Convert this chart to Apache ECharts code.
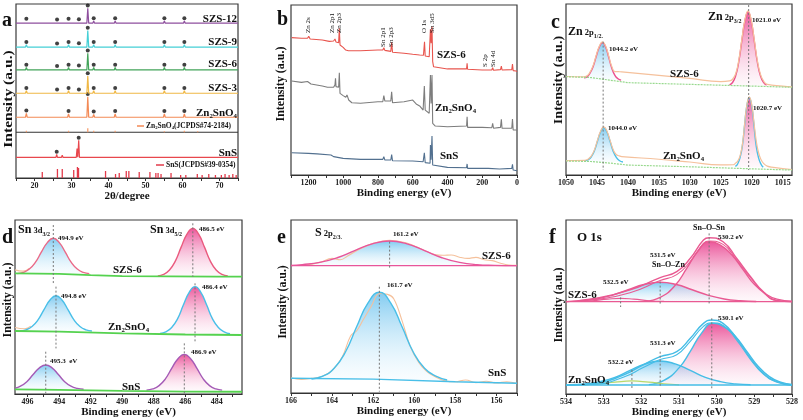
<!DOCTYPE html>
<html><head><meta charset="utf-8">
<script src="https://cdn.jsdelivr.net/npm/echarts@6/dist/echarts.min.js"></script>
<style>html,body{margin:0;padding:0;background:#fff}#c{width:803px;height:420px}</style>
</head><body><div id="c"></div>
<script>
// ---------- Panel a: XRD ----------
const xrdPeaks = [17.8, 26.1, 29.2, 32.0, 34.4, 36.0, 41.8, 51.7, 55.1, 60.5];
const szs12H = [0.9, 0.5, 0.9, 0.6, 8.6, 1.2, 1.2, 0.5, 1.2, 1.2];
const szs9H  = [1.4, 0.5, 1.4, 0.6, 9.6, 1.4, 1.4, 0.5, 1.4, 1.4];
const szs6H  = [1.4, 0.6, 1.4, 0.9, 9.6, 1.4, 1.4, 0.6, 1.4, 1.4];
const szs3H  = [1.4, 0.5, 1.4, 0.6, 9.9, 1.4, 1.4, 0.5, 1.4, 1.4];
const znH    = [2.3, 0,   2.0, 0,  11.8, 1.7, 2.0, 0.6, 2.0, 2.0];
const xrdBases = [89.0, 75.2, 62.1, 48.7, 34.9];          // SZS-12, SZS-9, SZS-6, SZS-3, Zn2SnO4
const szsMarked = [17.8, 26.1, 29.2, 32.0, 34.4, 36.0, 41.8, 55.1, 60.5];
const znMarked  = [17.8, 29.2, 34.4, 36.0, 41.8, 55.1, 60.5];
const snsBase = 11.9;
const snsPeaks = [22.0, 26.0, 27.5, 30.5, 31.5, 31.95, 39.1, 45.5, 48.5, 51.3, 53.5, 56.9, 64.5, 66.0];
const snsH     = [0.3, 1.7, 1.2, 0.6, 5.0, 9.8, 0.9, 0.6, 0.3, 0.5, 0.3, 0.3, 0.3, 0.2];
const snsMarked = [26.0, 31.95];
const znRefBase = 26.3;
const znRefPos = [17.8, 29.2, 34.4, 36.0, 41.8, 51.8, 55.1, 60.5, 64.1, 71.2];
const znRefH   = [0.9, 0.9, 2.3, 0.9, 0.9, 0.4, 0.6, 0.9, 0.5, 0.4];
const snsRefPos = [22.1,26.2,27.5,30.6,31.6,31.9,39.2,41.9,42.9,44.8,45.5,48.3,51.2,52.8,53.4,54.2,56.9,59.5,60.9,64.0,65.3,67.1,68.9,70.5,71.5,72.6,73.6,74.5];
const snsRefH   = [3.5,5.2,5.2,4.6,6.3,5.8,4.0,2.3,2.9,4.0,4.0,3.5,3.5,2.9,2.9,2.3,2.9,1.7,1.7,2.3,1.7,2.3,1.7,1.7,2.3,1.7,2.3,1.7];
const xrdTickLabels = [20, 30, 40, 50, 60, 70];
const xrdTicks = [15,20,25,30,35,40,45,50,55,60,65,70,75];

// ---------- Panel b: XPS survey ----------
const surveySZS6 = [[1296,80.8],[1240,80.4],[1205,80.4],[1198,81.6],[1190,80.0],[1120,79.4],[1080,78.6],[1055,78.8],[1047,80.0],[1044,80.8],[1041,78.2],[1026,77.8],[1022,86.3],[1018,76.5],[1000,75.1],[985,73.5],[978,74.5],[970,73.1],[900,73.1],[800,73.5],[772,73.5],[766,74.9],[760,73.3],[726,72.7],[721,78.0],[716,72.2],[650,71.6],[600,71.0],[560,70.6],[538,70.4],[532,78.4],[528,70.0],[505,69.6],[498,85.7],[494,77.5],[489,87.3],[485,66.7],[480,63.7],[470,62.7],[400,62.4],[290,62.4],[287,65.7],[284,62.2],[200,61.8],[145,61.8],[140,63.1],[135,61.6],[95,62.0],[90,64.1],[86,61.8],[30,62.0],[26,65.3],[22,61.4],[5,61.2],[0,60.8]];
const surveyZn = [[1296,55.3],[1240,54.5],[1205,55.0],[1198,56.0],[1185,53.5],[1120,52.4],[1090,51.6],[1055,51.6],[1047,53.0],[1044,56.9],[1041,52.0],[1026,51.6],[1022,60.2],[1018,48.0],[1000,46.7],[985,45.7],[978,47.1],[968,44.1],[950,42.5],[900,42.2],[800,43.1],[772,43.1],[766,46.7],[760,43.5],[726,43.5],[721,49.0],[716,42.5],[650,43.1],[600,44.1],[590,44.5],[580,41.8],[560,40.6],[540,38.2],[533,52.4],[528,38.2],[505,36.3],[498,58.8],[494,42.0],[489,58.8],[485,30.4],[480,29.4],[470,28.8],[400,28.4],[290,28.8],[287,34.3],[284,28.0],[200,28.0],[145,27.8],[140,30.4],[135,27.5],[95,28.0],[90,32.7],[86,27.5],[30,27.5],[26,32.9],[22,26.5],[5,26.5],[0,26.1]];
const surveySnS = [[1296,13.1],[1200,12.7],[1150,12.4],[1070,11.8],[1062,12.6],[1055,10.8],[1000,9.8],[900,9.2],[772,9.2],[766,10.8],[760,8.8],[726,8.8],[721,12.0],[716,8.4],[600,8.2],[540,7.8],[533,13.1],[528,7.3],[500,6.9],[498,17.6],[494,9.0],[489,22.9],[485,5.9],[480,4.9],[400,4.5],[290,4.3],[287,6.5],[284,3.9],[165,3.9],[162,4.5],[158,3.7],[100,3.5],[30,3.9],[26,6.3],[22,2.9],[0,2.5]];
const surveyTickLabels = [0,200,400,600,800,1000,1200];
const surveyTicks = [0,100,200,300,400,500,600,700,800,900,1000,1100,1200,1300];
const surveyPeakNames = ['Zn 2s','Zn 2p1','Zn 2p3','Sn 2p1','Sn 2p3','O 1s','Sn 3d5','S 2p','Sn 4d'];

// ---------- Panel c: Zn 2p ----------
const cSzsBg  = [[1050,57.5],[1046,57.0],[1043,55.5],[1040,54.0],[1030,53.0],[1020,52.0],[1013.5,51.3]];
const cSzsRaw = [[1050,57.6],[1047.2,57.4],[1046.6,58.0],[1046.1,60.3],[1045.6,64.2],[1045.1,70.2],[1044.6,75.5],[1044.1,77.9],[1043.6,75.4],[1043.1,69.6],[1042.6,63.4],[1042.1,60.5],[1041.5,60.4],[1041,60.3],[1035,58.3],[1030,56.5],[1025,54.6],[1023.6,55.0],[1023.1,56.0],[1022.6,59.2],[1022.1,67.0],[1021.6,79.3],[1021.1,90.8],[1020.6,96.0],[1020.1,90.8],[1019.6,79.3],[1019.1,67.0],[1018.6,59.0],[1018.1,55.0],[1017.5,53.0],[1015,52.0],[1013.5,51.5]];
const cSzsP1  = [[1047.1,56.9],[1046.6,57.4],[1046.1,59.7],[1045.6,63.6],[1045.1,69.6],[1044.6,75.0],[1044.1,77.4],[1043.6,74.8],[1043.1,68.9],[1042.6,62.4],[1042.1,58.3],[1041.6,56.3],[1041.1,55.5]];
const cSzsP2  = [[1023.6,52.7],[1023.1,54.1],[1022.6,58.0],[1022.1,66.1],[1021.6,78.6],[1021.1,90.3],[1020.6,95.5],[1020.1,90.3],[1019.6,78.6],[1019.1,66.1],[1018.6,58.0],[1018.1,54.1],[1017.6,52.5]];
const cZnBg   = [[1050,8.2],[1046,7.9],[1043,7.0],[1040,5.8],[1030,4.8],[1020,3.6],[1013.5,2.9]];
const cZnRaw  = [[1050,8.4],[1047,8.6],[1046.4,9.4],[1045.9,11.2],[1045.4,14.8],[1044.9,20.5],[1044.4,25.8],[1043.9,28.2],[1043.4,25.8],[1042.9,20.4],[1042.4,15.0],[1041.9,12.0],[1041.4,11.2],[1041,10.8],[1035,9.2],[1030,7.6],[1025,5.9],[1023,6.0],[1022.65,6.8],[1022.3,8.0],[1021.9,11.0],[1021.5,18.2],[1021.15,29.8],[1020.8,40.8],[1020.4,45.7],[1020.0,41.0],[1019.65,31.0],[1019.3,20.5],[1018.9,13.0],[1018.5,9.0],[1018.1,6.8],[1017.5,5.2],[1016.5,4.5],[1013.5,3.2]];
const cZnP1   = [[1047,8.2],[1046.4,8.9],[1045.9,10.7],[1045.4,14.3],[1044.9,20.0],[1044.4,25.3],[1043.9,27.7],[1043.4,25.3],[1042.9,19.9],[1042.4,14.1],[1041.9,10.4],[1041.4,8.5],[1040.8,7.6]];
const cZnP2   = [[1022.65,5.0],[1022.3,6.3],[1021.9,10.0],[1021.5,17.5],[1021.15,29.3],[1020.8,40.3],[1020.4,45.2],[1020.0,40.3],[1019.65,29.3],[1019.3,17.5],[1018.9,10.0],[1018.5,6.3],[1018.15,4.6]];
const cDash = [[1044.0, 78.0, 2.9], [1020.5, 99.4, 2.9]];
const cTickLabels = [1015,1020,1025,1030,1035,1040,1045,1050];
const cTicks = [1015,1017.5,1020,1022.5,1025,1027.5,1030,1032.5,1035,1037.5,1040,1042.5,1045,1047.5,1050];

// ---------- Panel d: Sn 3d ----------
const dSzsBg = [[496.8,69.3],[494,69.0],[492,68.3],[490,67.8],[484,67.4],[482.4,67.4]];
const dSzsRaw = [[496.8,71.3],[496.3,70.6],[495.9,72.2]];
const dSzsP1 = [[496.65,69.2],[496.27,69.9],[495.89,71.8],[495.51,75.6],[495.13,81.5],[494.75,87.0],[494.37,89.5],[493.99,87.0],[493.61,81.5],[493.23,75.6],[492.85,71.8],[492.47,69.9],[492.09,69.2]];
const dSzsP2 = [[487.74,67.9],[487.37,68.8],[487.0,71.3],[486.63,76.4],[486.26,84.4],[485.89,91.9],[485.52,95.2],[485.15,91.9],[484.78,84.4],[484.41,76.4],[484.04,71.3],[483.67,68.8],[483.3,67.9]];
const dZnBg = [[496.8,36.2],[494,35.8],[490,34.8],[486,34.2],[482.4,33.9]];
const dZnRaw = [[496.8,38.2],[496.2,37.5],[495.8,39.0]];
const dZnP1 = [[496.48,36.2],[496.1,36.9],[495.72,38.8],[495.34,42.6],[494.96,48.5],[494.58,54.0],[494.2,56.5],[493.82,54.0],[493.44,48.5],[493.06,42.6],[492.68,38.8],[492.3,36.9],[491.92,36.2]];
const dZnP2 = [[487.6,34.8],[487.23,35.7],[486.86,38.2],[486.49,43.2],[486.12,51.1],[485.75,58.4],[485.38,61.7],[485.01,58.4],[484.64,51.1],[484.27,43.2],[483.9,38.2],[483.53,35.7],[483.16,34.6]];
const dSnsBg = [[496.8,2.7],[494,2.4],[490,1.8],[486,1.4],[482.4,1.3]];
const dSnsP1 = [[496.8,3.3],[496.45,4.5],[496.05,7.1],[495.65,11.2],[495.25,15.0],[494.85,16.7],[494.45,15.0],[494.05,11.2],[493.65,7.1],[493.25,4.5],[492.85,3.2],[492.45,2.7]];
const dSnsP2 = [[488.46,2.2],[488.06,2.9],[487.66,4.8],[487.26,8.7],[486.86,14.7],[486.46,20.3],[486.06,22.8],[485.66,20.3],[485.26,14.7],[484.86,8.7],[484.46,4.8],[484.06,2.9],[483.66,2.2]];
const dDash = [[494.37,97.1,62.6],[494.2,61.7,26.2],[485.52,98.1,67.4],[485.38,63.6,29.1],[494.85,24.3,0.4],[486.06,29.1,0.4]];
const dTickLabels = [484,486,488,490,492,494,496];
const dTicks = [483,484,485,486,487,488,489,490,491,492,493,494,495,496];

// ---------- Panel e: S 2p ----------
const eSzsBg = [[166,73.6],[155,73.6]];
const eSzsRaw = [[166,73.7],[165.3,74.0],[164.6,75.5],[164.0,77.8],[163.6,77.0],[163.2,79.5],[162.6,83.5],[162.0,86.5],[161.2,88.3],[160.4,86.8],[159.6,83.0],[159.0,80.0],[158.6,79.6],[158.2,79.8],[157.8,78.5],[157.4,77.8],[157.0,78.4],[156.6,77.0],[156.2,76.5],[155.8,75.0],[155.4,74.0],[155,73.8]];
const eSzsP = [[166,73.7],[165.45,74.2],[164.6,75.5],[163.75,78.2],[162.9,82.3],[162.05,86.2],[161.2,87.9],[160.35,86.2],[159.5,82.3],[158.65,78.2],[157.8,75.5],[156.95,74.2],[156.1,73.8],[155,73.6]];
const eSnsBg = [[166,8.5],[162,8.0],[158,6.5],[155,5.6]];
const eSnsRaw = [[166,8.8],[165.5,7.8],[165,8.5],[164.5,9.5],[164,13],[163.5,21],[163.1,33],[162.8,36],[162.5,42],[162.1,50],[161.7,57.5],[161.3,57],[161.0,54.5],[160.6,42],[160.2,27],[159.8,18],[159.4,12.5],[159,9.5],[158.5,7.0],[158,6.5],[157.5,7.5],[157,6.0],[156.5,6.8],[156,5.8],[155.5,6.5],[155,5.5]];
const eSnsP = [[165.0,8.1],[164.45,9.7],[163.9,14.3],[163.35,23.7],[162.8,38.4],[162.25,52.1],[161.7,58.2],[161.15,52.1],[160.6,38.4],[160.05,23.7],[159.5,14.3],[158.95,9.7],[158.4,7.5]];
const eDash = [[161.2,87.5,72.1],[161.7,61.4,0.8]];
const eTickLabels = [156,158,160,162,164,166];
const eTicks = [155,156,157,158,159,160,161,162,163,164,165,166];

// ---------- Panel f: O 1s ----------
const fSzsEnv = [[534,53.1],[533.2,55.0],[532.3,59.8],[531.5,66.9],[531.06,70.3],[530.7,78.0],[530.35,88.5],[530.2,89.8],[529.83,87.5],[529.47,78.0],[529.1,67.4],[528.76,58.8],[528.4,53.8],[528,53.1]];
const fSzsRaw = [[534,53.0],[533.2,54.3],[532.3,58.2],[531.5,65.2],[531.06,68.6],[530.7,76.2],[530.35,86.6],[530.2,87.9],[529.83,86.0],[529.47,77.0],[529.1,66.8],[528.76,58.4],[528.4,53.6],[528,53.0]];
const fSzsMain = [[531.9,53.3],[531.5,55.5],[531.1,62.5],[530.8,72],[530.5,82],[530.2,87.5],[529.9,85.5],[529.6,80],[529.3,71.5],[529.0,63],[528.7,57.5],[528.4,54.5],[528.0,53.3]];
const fSzsZn = [[533.63,53.6],[533.2,54.6],[532.78,56.7],[532.35,59.9],[531.93,62.9],[531.5,64.2],[531.07,62.9],[530.65,59.9],[530.22,56.7],[529.8,54.6],[529.37,53.6],[528.95,53.2]];
const fSzsOH = [[533.7,53.2],[533.3,53.6],[532.9,54.5],[532.55,55.0],[532.2,54.5],[531.8,53.6],[531.4,53.2]];
const fSzsBase = [[534,53.1],[528,53.1]];
const fZnEnv = [[534,5.2],[533.2,6.1],[532.48,10.9],[531.95,16.7],[531.5,21.5],[531.06,24.3],[530.7,32.0],[530.35,40.6],[530.13,42.5],[529.83,40.6],[529.47,32.0],[529.1,20.5],[528.76,11.9],[528.4,7.1],[528,5.2]];
const fZnRaw = [[534,5.1],[533.2,5.6],[532.48,9.6],[531.95,15.2],[531.5,19.8],[531.06,22.6],[530.7,30.3],[530.35,38.9],[530.13,40.9],[529.83,39.4],[529.47,31.0],[529.1,19.8],[528.76,11.4],[528.4,6.8],[528,5.1]];
const fZnMain = [[531.8,5.4],[531.4,7.8],[531.0,15.0],[530.7,24.5],[530.4,35.0],[530.1,40.6],[529.8,38.6],[529.5,33.0],[529.2,24.5],[528.9,16.0],[528.6,10.0],[528.3,6.8],[528.0,5.5]];
const fZnZn = [[533.9,5.3],[533.5,5.8],[533.1,7.1],[532.7,9.6],[532.3,13.6],[531.9,17.3],[531.5,19.0],[531.1,17.3],[530.7,13.6],[530.3,9.6],[529.9,7.1],[529.5,5.8],[529.1,5.3]];
const fZnOH = [[533.5,5.3],[533.1,5.9],[532.7,6.8],[532.25,7.5],[531.8,6.8],[531.4,5.9],[531.0,5.3]];
const fZnBase = [[534,5.2],[528,5.2]];
const fDash = [[530.2,92.3,51.1],[531.5,64.6,51.1],[532.55,55.5,50.0],[530.13,43.5,3.3],[531.5,24.3,4.2],[532.25,13.8,2.3]];
const fTickLabels = [528,529,530,531,532,533,534];
const fTicks = [528,528.5,529,529.5,530,530.5,531,531.5,532,532.5,533,533.5,534];

// ================= build =================
const SERIF = '"Liberation Serif","Times New Roman",serif';
const chart = echarts.init(document.getElementById('c'), null, {renderer:'canvas'});

function spikes(base, pos, hs, w, x0, x1) {
  const pts = [[x0, base]];
  pos.forEach((p, i) => { if (hs[i] > 0) pts.push([p - w, base], [p, base + hs[i]], [p + w, base]); });
  pts.push([x1, base]);
  return pts;
}
function sticks(base, pos, hs) {
  const pts = [];
  pos.forEach((p, i) => { pts.push([p, base], [p, base + hs[i]], [p, '-']); });
  return pts;
}
function marks(base, pos, hs, list, gap) {
  return list.map(x => [x, base + hs[pos.indexOf(x)] + gap]);
}
function dashes(arr) {
  const pts = [];
  arr.forEach(d => { pts.push([d[0], d[1]], [d[0], d[2]], [d[0], '-']); });
  return pts;
}
function L(gi, data, color, width, extra) {
  return Object.assign({type:'line', xAxisIndex:gi, yAxisIndex:gi, data, symbol:'none', silent:true,
    lineStyle:{color, width}}, extra || {});
}
function grad(top, bot) {
  return new echarts.graphic.LinearGradient(0, 0, 0, 1, [{offset:0, color:top}, {offset:1, color:bot}]);
}
const PINK_F = () => grad('rgba(232,58,138,0.85)', 'rgba(250,210,230,0.15)');
const BLUE_F = () => grad('rgba(88,186,236,0.75)', 'rgba(215,240,252,0.15)');
function peak(gi, data, color, base, fill) {
  return L(gi, data, color, 1.4, {smooth:0.5, areaStyle:{origin:base, color:fill(), opacity:1}});
}
function xa(gi, min, max, labels, ticks, name, inverse, gap) {
  return {type:'value', gridIndex:gi, min, max, inverse, name, nameLocation:'middle', nameGap:gap,
    nameTextStyle:{fontFamily:SERIF, fontWeight:'bold', fontSize:11, color:'#111'},
    axisLine:{show:true, onZero:false, lineStyle:{color:'#333', width:1.2}},
    axisTick:{show:true, length:3, inside:false, customValues:ticks, lineStyle:{color:'#333'}},
    axisLabel:{customValues:labels, formatter:v => String(v), fontFamily:SERIF, fontWeight:'bold', fontSize:8, color:'#222', margin:4},
    splitLine:{show:false}};
}
const gridBoxes = [
  [16, 4, 222, 174], [291, 5, 226, 170], [566, 4, 226, 171],
  [15, 220, 227, 174], [291, 220, 226, 173], [566, 220, 226, 174]
];
const grids = gridBoxes.map(b => ({left:b[0], top:b[1], width:b[2], height:b[3], show:true,
  borderColor:'#3a3a3a', borderWidth:1.2, backgroundColor:'#fff', containLabel:false, outerBoundsMode:'none'}));
const xAxes = [
  xa(0, 15, 75, xrdTickLabels, xrdTicks, '2θ/degree', false, 10),
  xa(1, 0, 1300, surveyTickLabels, surveyTicks, 'Binding energy (eV)', true, 12),
  xa(2, 1013.5, 1050, cTickLabels, cTicks, 'Binding energy (eV)', true, 12),
  xa(3, 482.4, 496.8, dTickLabels, dTicks, 'Binding energy (eV)', true, 12),
  xa(4, 155, 166, eTickLabels, eTicks, 'Binding energy (eV)', true, 12),
  xa(5, 528, 534, fTickLabels, fTicks, 'Binding energy (eV)', true, 12)
];
const yAxes = [0,1,2,3,4,5].map(i => ({type:'value', gridIndex:i, min:0, max:100, show:false}));

const series = [];
// panel a
const xrdColors = ['#8e4f9e', '#45d0d6', '#43a45a', '#f0b845', '#f38a56'];
const xrdH = [szs12H, szs9H, szs6H, szs3H, znH];
xrdH.forEach((hs, i) => {
  series.push(L(0, spikes(xrdBases[i], xrdPeaks, hs, 0.25, 15, 75), xrdColors[i], 1.2));
  series.push({type:'scatter', xAxisIndex:0, yAxisIndex:0, symbol:'circle', symbolSize:4, silent:true,
    itemStyle:{color:'#111'}, data:marks(xrdBases[i], xrdPeaks, hs, i < 4 ? szsMarked : znMarked, 1.6)});
});
series.push(L(0, [[15, znRefBase], [75, znRefBase]], '#333', 1.2));
series.push(L(0, sticks(znRefBase, znRefPos, znRefH), '#f6a070', 1.3));
series.push(L(0, spikes(snsBase, snsPeaks, snsH, 0.2, 15, 75), '#e8474d', 1.2));
series.push({type:'scatter', xAxisIndex:0, yAxisIndex:0, symbol:'circle', symbolSize:4, silent:true,
  itemStyle:{color:'#111'}, data:marks(snsBase, snsPeaks, snsH, snsMarked, 1.5)});
series.push(L(0, sticks(0, snsRefPos, snsRefH), '#e23a4a', 1.3));
// panel b
series.push(L(1, surveySZS6, '#e8554e', 1.1));
series.push(L(1, surveyZn, '#7d7d7d', 1.1));
series.push(L(1, surveySnS, '#52708f', 1.1));
// panel c
series.push(peak(2, cSzsP1, '#ec4f8e', 55.5, BLUE_F));
series.push(peak(2, cSzsP2, '#ec4f8e', 52.2, PINK_F));
series.push(L(2, cSzsRaw, '#f5c19c', 1.2, {smooth:0.5}));
series.push(L(2, cSzsBg, '#98d98e', 1.2, {lineStyle:{color:'#98d98e', width:1.2, type:[2,1]}}));
series.push(peak(2, cZnP1, '#49bfe8', 7.6, BLUE_F));
series.push(peak(2, cZnP2, '#49bfe8', 4.5, PINK_F));
series.push(L(2, cZnRaw, '#f5c19c', 1.2, {smooth:0.5}));
series.push(L(2, cZnBg, '#98d98e', 1.2, {lineStyle:{color:'#98d98e', width:1.2, type:[2,1]}}));
series.push(L(2, dashes(cDash), '#777', 1, {lineStyle:{color:'#777', width:1, type:[2,2]}}));
// panel d
series.push(L(3, dSzsRaw, '#f5c19c', 1.2, {smooth:0.5}));
series.push(peak(3, dSzsP1, '#ea6a88', 69.0, BLUE_F));
series.push(peak(3, dSzsP2, '#ea5a7e', 67.6, PINK_F));
series.push(L(3, dSzsBg, '#55d24f', 1.8));
series.push(L(3, dZnRaw, '#f5c19c', 1.2, {smooth:0.5}));
series.push(peak(3, dZnP1, '#49bfe8', 36.0, BLUE_F));
series.push(peak(3, dZnP2, '#49bfe8', 34.4, PINK_F));
series.push(L(3, dZnBg, '#55d24f', 1.8));
series.push(peak(3, dSnsP1, '#a45bb6', 2.6, BLUE_F));
series.push(peak(3, dSnsP2, '#a45bb6', 2.0, PINK_F));
series.push(L(3, dSnsBg, '#55d24f', 1.8));
series.push(L(3, dashes(dDash), '#777', 1, {lineStyle:{color:'#777', width:1, type:[2,2]}}));
// panel e
series.push(L(4, eSzsRaw, '#f5c19c', 1.1, {smooth:0.4}));
series.push(peak(4, eSzsP, '#e8559a', 73.6, BLUE_F));
series.push(L(4, eSzsBg, '#e8559a', 1.4));
series.push(L(4, eSnsRaw, '#f5c19c', 1.1, {smooth:0.4}));
series.push(peak(4, eSnsP, '#49bfe8', 7.5, BLUE_F));
series.push(L(4, eSnsBg, '#49bfe8', 1.4));
series.push(L(4, dashes(eDash), '#777', 1, {lineStyle:{color:'#777', width:1, type:[2,2]}}));
// panel f
series.push(peak(5, fSzsZn, '#e95a92', 53.1, BLUE_F));
series.push(peak(5, fSzsMain, '#e95a92', 53.1, PINK_F));
series.push(L(5, fSzsOH, '#e95a92', 1.2, {smooth:0.5}));
series.push(L(5, fSzsBase, '#e95a92', 1.4));
series.push(L(5, fSzsRaw, '#e95a92', 1.1, {smooth:0.5}));
series.push(L(5, fSzsEnv, '#e95a92', 1.4, {smooth:0.5}));
series.push(peak(5, fZnZn, '#45bde6', 5.2, BLUE_F));
series.push(peak(5, fZnMain, '#45bde6', 5.2, PINK_F));
series.push(L(5, fZnOH, '#b9d86a', 1.2, {smooth:0.5}));
series.push(L(5, fZnBase, '#45bde6', 1.4));
series.push(L(5, fZnRaw, '#45bde6', 1.1, {smooth:0.5}));
series.push(L(5, fZnEnv, '#45bde6', 1.4, {smooth:0.5}));
series.push(L(5, dashes(fDash), '#777', 1, {lineStyle:{color:'#777', width:1, type:[2,2]}}));

// ---------- text ----------
const meas = document.createElement('canvas').getContext('2d');
function fnt(size, bold) { return (bold === false ? '' : 'bold ') + size + 'px ' + SERIF; }
function txt(x, y, parts, opt) {
  opt = opt || {};
  if (typeof parts === 'string') parts = [[parts, opt.size || 7]];
  const out = [];
  let total = 0;
  parts.forEach(p => { meas.font = fnt(p[1], opt.bold); total += meas.measureText(p[0]).width; });
  let cx = opt.align === 'right' ? x - total : x;
  parts.forEach(p => {
    meas.font = fnt(p[1], opt.bold);
    const w = meas.measureText(p[0]).width;
    out.push({type:'text', x:cx, y:y + (p[2] || 0), z:100, silent:true,
      style:{text:p[0], font:fnt(p[1], opt.bold), fill:opt.color || '#111',
        textAlign:'left', textVerticalAlign:'middle', align:'left', verticalAlign:'middle'}});
    cx += w;
  });
  return out;
}
function rot(x, y, text, size, bold, align, sx) {
  return {type:'text', x, y, rotation:Math.PI / 2, scaleX:sx || 1, z:100, silent:true,
    style:{text, font:fnt(size, bold), fill:'#111', textAlign:align, textVerticalAlign:'middle', align, verticalAlign:'middle'}};
}
const ZNSNO = s => [['Zn', s], ['2', s * 0.62, s * 0.28], ['SnO', s], ['4', s * 0.62, s * 0.28]];
const G = [];
const add = a => { Array.isArray(a) ? G.push(...a) : G.push(a); };
// y titles
[[9, 99, 1.3], [281, 84, 1.0], [559, 80, 1.18], [8, 300, 1.0], [283, 302, 0.98], [559, 305, 1.0]]
  .forEach(t => add(rot(t[0], t[1], 'Intensity (a.u.)', 12, true, 'center', t[2])));
// panel letters
add(txt(2, 21, [['a', 20]])); add(txt(277, 20, [['b', 20]])); add(txt(551, 23, [['c', 20]]));
add(txt(2, 238, [['d', 20]])); add(txt(277, 238, [['e', 20]])); add(txt(549, 238, [['f', 20]]));
// panel a
add(txt(237, 19, [['SZS-12', 11]], {align:'right'}));
add(txt(237, 42, [['SZS-9', 11]], {align:'right'}));
add(txt(237, 64, [['SZS-6', 11]], {align:'right'}));
add(txt(237, 88, [['SZS-3', 11]], {align:'right'}));
add(txt(237, 113, ZNSNO(11), {align:'right'}));
add(txt(237, 153, [['SnS', 11]], {align:'right'}));
add({type:'line', shape:{x1:137, y1:126, x2:144, y2:126}, style:{stroke:'#f38a56', lineWidth:1.5}, z:100, silent:true});
add(txt(146, 126, ZNSNO(7.5).concat([['(JCPDS#74-2184)', 7.5]])));
add({type:'line', shape:{x1:156, y1:165, x2:164, y2:165}, style:{stroke:'#e23a4a', lineWidth:1.5}, z:100, silent:true});
add(txt(166, 165, [['SnS(JCPDS#39-0354)', 7.5]]));
// panel b
add(txt(437, 55, [['SZS-6', 11]])); add(txt(435, 108, ZNSNO(11))); add(txt(440, 156, [['SnS', 11]]));
const surveyLabelX = [307.7, 331.7, 339.5, 383.5, 391, 424.5, 432, 485, 492.7];
const surveyLabelY = [33, 33, 33, 47, 47, 33, 33, 67, 67];
surveyPeakNames.forEach((n, i) => add(rot(surveyLabelX[i], surveyLabelY[i], n, 7, false, 'left')));
// panel c
add(txt(568, 32, [['Zn', 12], [' 2p', 8.5, 1], ['1/2.', 6, 4]]));
add(txt(609, 49, '1044.2 eV'));
add(txt(708, 17, [['Zn', 12], [' 2p', 8.5, 1], ['3/2', 6, 4]]));
add(txt(752, 20, '1021.0 eV'));
add(txt(670, 74, [['SZS-6', 11]]));
add(txt(753, 108, '1020.7 eV'));
add(txt(608, 128, '1044.0 eV'));
add(txt(663, 156, ZNSNO(11)));
// panel d
add(txt(18, 230, [['Sn', 12], [' 3d', 8.5, 1], ['3/2', 6, 4]]));
add(txt(58, 238, '494.9 eV'));
add(txt(150, 230, [['Sn', 12], [' 3d', 8.5, 1], ['5/2', 6, 4]]));
add(txt(199, 229, '486.5 eV'));
add(txt(113, 270, [['SZS-6', 11]]));
add(txt(61, 296, '494.8 eV'));
add(txt(202, 287, '486.4 eV'));
add(txt(108, 327, ZNSNO(11)));
add(txt(50, 361, '495.3  eV'));
add(txt(191, 352, '486.9 eV'));
add(txt(122, 387, [['SnS', 11]]));
// panel e
add(txt(315, 233, [['S', 12], [' 2p', 8.5, 1], ['2/3.', 6, 4]]));
add(txt(393, 234, '161.2 eV'));
add(txt(482, 256, [['SZS-6', 11]]));
add(txt(387, 285, '161.7 eV'));
add(txt(488, 373, [['SnS', 11]]));
// panel f
add(txt(577, 238, [['O 1s', 13]]));
add(txt(693, 228, [['Sn–O–Sn', 8]]));
add(txt(718, 237, '530.2 eV'));
add(txt(650, 255, '531.5 eV'));
add(txt(652, 265, [['Sn–O–Zn', 8]]));
add(txt(603, 282, '532.5 eV'));
add(txt(568, 295, [['SZS-6', 11]]));
add(txt(718, 318, '530.1 eV'));
add(txt(650, 343, '531.3 eV'));
add(txt(608, 362, '532.2 eV'));
add(txt(568, 380, ZNSNO(11)));

chart.setOption({
  animation:false,
  backgroundColor:'#fff',
  grid:grids, xAxis:xAxes, yAxis:yAxes, series, graphic:{elements:G}
});
</script></body></html>
